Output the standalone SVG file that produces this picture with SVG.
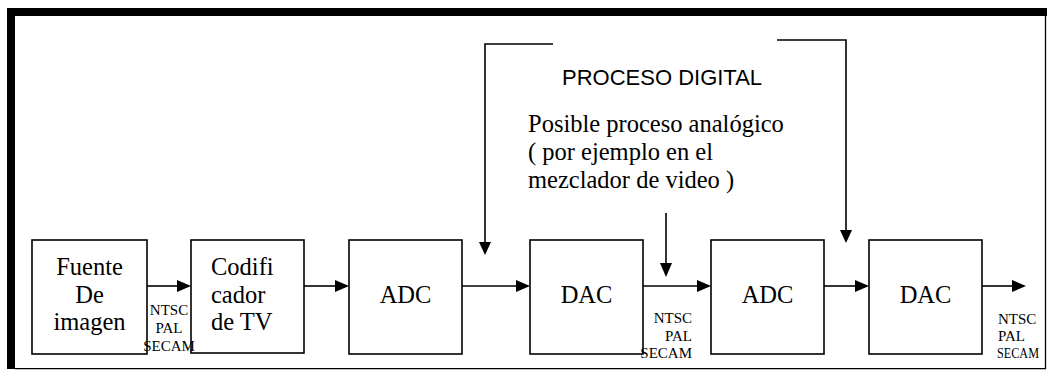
<svg xmlns="http://www.w3.org/2000/svg" width="1047" height="371" viewBox="0 0 1047 371">
<style>
.box{fill:none;stroke:#000;stroke-width:1.6}
.t{font-family:"Liberation Serif","Times New Roman",serif;font-size:24.5px;fill:#000}
.s{font-family:"Liberation Serif","Times New Roman",serif;font-size:15px;fill:#000}
.a{font-family:"Liberation Sans",Arial,sans-serif;font-size:22px;fill:#000}
.ln{fill:none;stroke:#000;stroke-width:1.6}
.ah{fill:#000;stroke:none}
</style>
<rect width="1047" height="371" fill="#fff"/>
<g id="frame">
<rect x="7" y="8" width="1040" height="8" fill="#000"/>
<rect x="7" y="8" width="8" height="361" fill="#000"/>
<line x1="1045.5" y1="16" x2="1045.5" y2="369" stroke="#000" stroke-width="1.3"/>
<line x1="15" y1="368.6" x2="1046" y2="368.6" stroke="#000" stroke-width="1.3"/>
</g>
<g id="connectors">
<line class="ln" x1="147" y1="286" x2="178" y2="286"/><polygon class="ah" points="191,286 177,280 177,292"/>
<line class="ln" x1="304" y1="286" x2="336" y2="286"/><polygon class="ah" points="349,286 335,280 335,292"/>
<line class="ln" x1="462" y1="286" x2="517" y2="286"/><polygon class="ah" points="530,286 516,280 516,292"/>
<line class="ln" x1="643" y1="286" x2="698" y2="286"/><polygon class="ah" points="711,286 697,280 697,292"/>
<line class="ln" x1="824" y1="286" x2="856" y2="286"/><polygon class="ah" points="869,286 855,280 855,292"/>
<line class="ln" x1="982" y1="286" x2="1013" y2="286"/><polygon class="ah" points="1026,286 1012,280 1012,292"/>
<polyline class="ln" points="553,44 485,44 485,244"/><polygon class="ah" points="485,255 479,242 491,242"/>
<polyline class="ln" points="777,40 846,40 846,232"/><polygon class="ah" points="846,243 840,230 852,230"/>
<line class="ln" x1="666" y1="213" x2="666" y2="265"/><polygon class="ah" points="666,277 660,263 672,263"/>
</g>
<g id="fuente">
<rect class="box" x="32" y="240" width="115" height="114"/>
<text class="t" text-anchor="middle" x="89.5" y="275">Fuente</text>
<text class="t" text-anchor="middle" x="89.5" y="303">De</text>
<text class="t" text-anchor="middle" x="89.5" y="330">imagen</text>
</g>
<g id="codificador">
<rect class="box" x="191" y="240" width="113" height="113"/>
<text class="t" x="211" y="275">Codifi</text>
<text class="t" x="211" y="303">cador</text>
<text class="t" x="211" y="330">de TV</text>
</g>
<g id="adc1">
<rect class="box" x="349" y="240" width="113" height="114"/>
<text class="t" text-anchor="middle" x="405.5" y="303">ADC</text>
</g>
<g id="dac1">
<rect class="box" x="530" y="240" width="113" height="114"/>
<text class="t" text-anchor="middle" x="586.5" y="303">DAC</text>
</g>
<g id="adc2">
<rect class="box" x="711" y="240" width="113" height="114"/>
<text class="t" text-anchor="middle" x="767.5" y="303">ADC</text>
</g>
<g id="dac2">
<rect class="box" x="869" y="240" width="113" height="114"/>
<text class="t" text-anchor="middle" x="925.5" y="303">DAC</text>
</g>
<g id="label-std1">
<text class="s" text-anchor="middle" x="169" y="315">NTSC</text>
<text class="s" text-anchor="middle" x="169" y="333">PAL</text>
<text class="s" text-anchor="middle" x="169" y="351">SECAM</text>
</g>
<g id="label-std2">
<text class="s" text-anchor="end" x="692" y="323">NTSC</text>
<text class="s" text-anchor="end" x="692" y="341">PAL</text>
<text class="s" text-anchor="end" x="692" y="358">SECAM</text>
</g>
<g id="label-std3">
<text class="s" x="998" y="324">NTSC</text>
<text class="s" x="998" y="341">PAL</text>
<text class="s" x="997" y="358" font-size="13.5" textLength="42" lengthAdjust="spacingAndGlyphs">SECAM</text>
</g>
<g id="proceso-digital">
<text class="a" x="562" y="85">PROCESO DIGITAL</text>
</g>
<g id="proceso-analogico">
<text class="t" x="528" y="132">Posible proceso analógico</text>
<text class="t" x="528" y="160">( por ejemplo en el</text>
<text class="t" x="528" y="188">mezclador de video )</text>
</g>
</svg>
